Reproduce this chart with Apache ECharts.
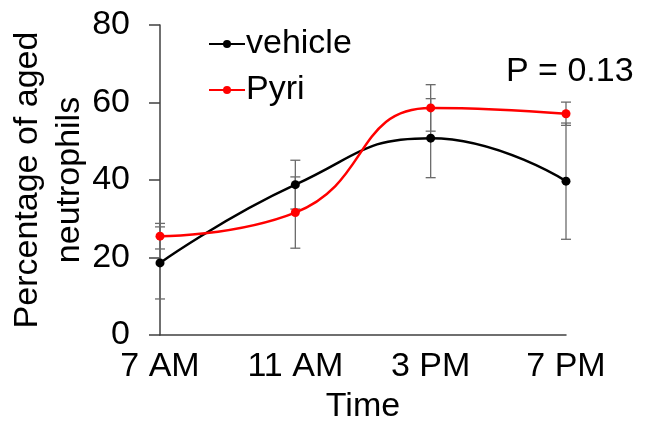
<!DOCTYPE html>
<html>
<head>
<meta charset="utf-8">
<script src="https://cdn.jsdelivr.net/npm/echarts@6/dist/echarts.min.js"></script>
<style>
  html, body { margin: 0; padding: 0; background: #fff; }
  #chart { width: 656px; height: 425px; }
</style>
</head>
<body>
<div id="chart"></div>
<script>
var times = ['7 AM', '11 AM', '3 PM', '7 PM'];
var vehicleMean = [18.6, 38.8, 50.8, 39.7];
var vehicleErr = [9.3, 6.3, 10.2, 15.0];
var pyriMean = [25.5, 31.6, 58.6, 57.1];
var pyriErr = [3.3, 9.2, 6.0, 3.0];
var yTicks = [0, 20, 40, 60, 80];

var FONT = '"Liberation Sans", Arial, sans-serif';
var FS = 34;

// 误差线数据 [x, low, high]
function errData(mean, err) {
  return mean.map(function (m, i) { return [i, m - err[i], m + err[i]]; });
}

function renderErr(params, api) {
  var x = api.value(0);
  var lo = api.coord([x, api.value(1)]);
  var hi = api.coord([x, api.value(2)]);
  var w = 5;
  var style = { stroke: '#6b6b6b', lineWidth: 1.3 };
  return {
    type: 'group',
    children: [
      { type: 'line', shape: { x1: lo[0], y1: lo[1], x2: hi[0], y2: hi[1] }, style: style },
      { type: 'line', shape: { x1: lo[0] - w, y1: lo[1], x2: lo[0] + w, y2: lo[1] }, style: style },
      { type: 'line', shape: { x1: hi[0] - w, y1: hi[1], x2: hi[0] + w, y2: hi[1] }, style: style }
    ]
  };
}

var myChart = echarts.init(document.getElementById('chart'));

var option = {
  animation: false,
  textStyle: { fontFamily: FONT },
  grid: { left: 160, right: 90, top: 25, bottom: 90, outerBoundsMode: 'none', containLabel: false },
  legend: {
    orient: 'vertical',
    left: 203,
    top: 22,
    itemWidth: 36,
    itemHeight: 10,
    itemGap: 12,
    textStyle: { fontSize: FS, color: '#000', fontFamily: FONT, padding: [0, 0, 0, -4] },
    data: ['vehicle', 'Pyri']
  },
  graphic: [{
    type: 'text',
    left: 506,
    top: 55,
    style: { text: 'P = 0.13', font: FS + 'px ' + FONT, fill: '#000' }
  }],
  xAxis: {
    type: 'category',
    data: times,
    boundaryGap: false,
    name: 'Time',
    nameLocation: 'middle',
    nameGap: 55,
    nameMoveOverlap: false,
    nameTextStyle: { fontSize: FS, color: '#000' },
    axisLine: { lineStyle: { color: '#404040', width: 1.5 } },
    axisTick: { show: false },
    axisLabel: { fontSize: FS, color: '#000', margin: 15 }
  },
  yAxis: {
    type: 'value',
    min: yTicks[0],
    max: yTicks[yTicks.length - 1],
    interval: 20,
    name: 'Percentage of aged\nneutrophils',
    nameLocation: 'middle',
    nameGap: 69,
    nameMoveOverlap: false,
    nameTextStyle: { fontSize: FS, color: '#000', lineHeight: 42 },
    splitLine: { show: false },
    axisLine: { show: true, lineStyle: { color: '#404040', width: 1.5 } },
    axisTick: { show: true, length: 11, lineStyle: { color: '#404040', width: 1.5 } },
    axisLabel: { fontSize: FS, color: '#000', margin: 30 }
  },
  series: [
    {
      name: 'vehicle err',
      type: 'custom',
      renderItem: renderErr,
      data: errData(vehicleMean, vehicleErr),
      z: 1,
      silent: true
    },
    {
      name: 'Pyri err',
      type: 'custom',
      renderItem: renderErr,
      data: errData(pyriMean, pyriErr),
      z: 1,
      silent: true
    },
    {
      name: 'vehicle',
      type: 'line',
      data: vehicleMean,
      smooth: true,
      symbol: 'circle',
      symbolSize: 9,
      itemStyle: { color: '#000' },
      lineStyle: { color: '#000', width: 2.5 },
      z: 3
    },
    {
      name: 'Pyri',
      type: 'line',
      data: pyriMean,
      smooth: true,
      symbol: 'circle',
      symbolSize: 9,
      itemStyle: { color: '#ff0000' },
      lineStyle: { color: '#ff0000', width: 2.5 },
      z: 4
    }
  ]
};
myChart.setOption(option);
window.addEventListener('resize', function () {
  myChart.resize();
});
</script>
</body>
</html>
